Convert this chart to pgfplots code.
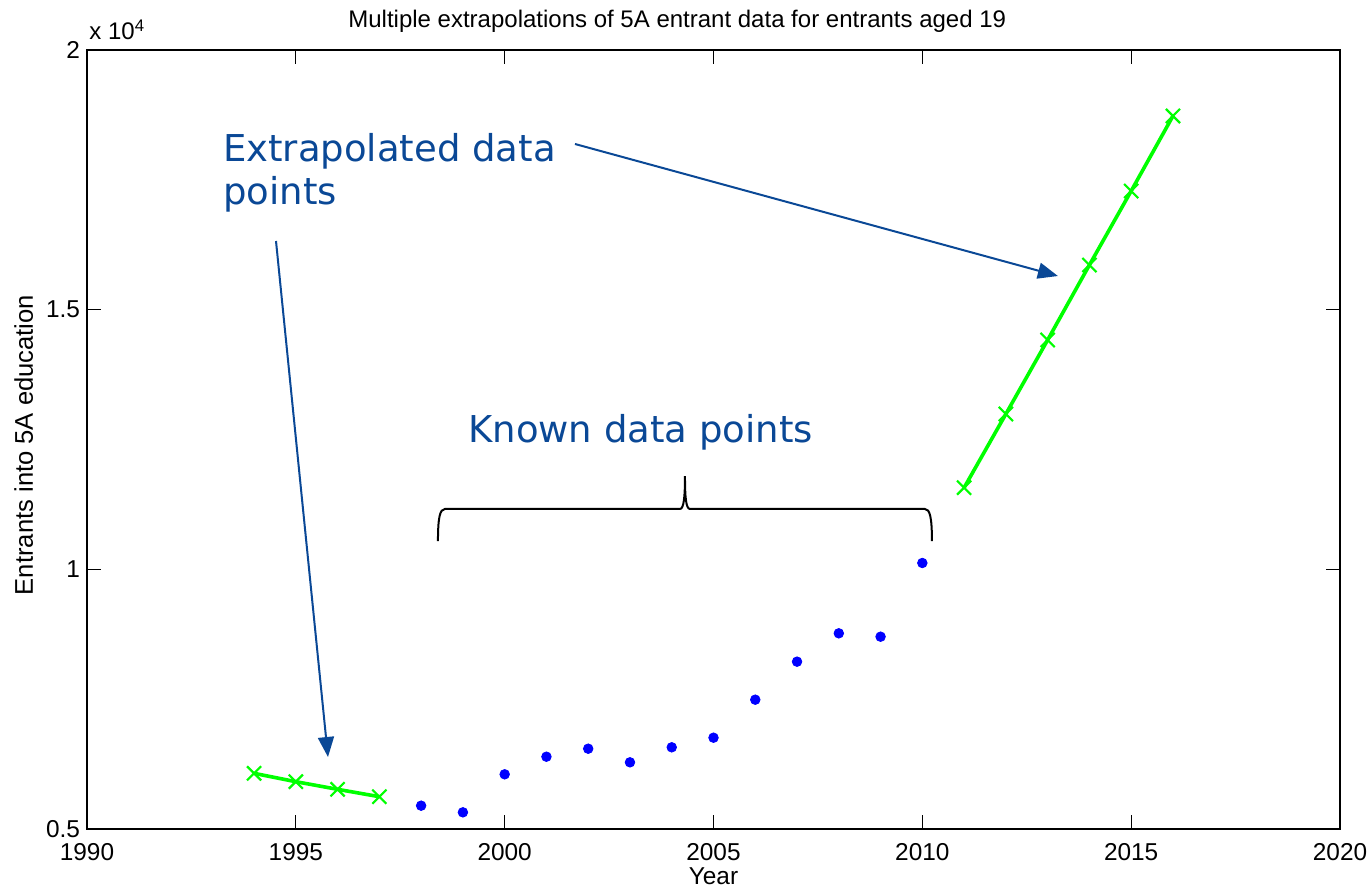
\documentclass[border=0pt]{standalone}
\usepackage{pgfplots}
\pgfplotsset{compat=1.18}
\usepackage{fontspec}
\setmainfont{Liberation Sans}
\newfontfamily\verd{DejaVu Sans}
\usetikzlibrary{arrows.meta}
\definecolor{annblue}{RGB}{10,72,150}
\definecolor{mgreen}{RGB}{0,255,0}
\definecolor{mblue}{RGB}{0,0,255}
\begin{document}
\begin{tikzpicture}
\begin{axis}[
 at={(0,0)}, anchor=south west,
 scale only axis, width=626.5bp, height=389.5bp,
 xmin=1990, xmax=2020, ymin=5000, ymax=20000,
 xtick={1990,1995,...,2020}, ytick={5000,10000,15000,20000}, yticklabels={0.5,1,1.5,2},
 scaled ticks=false,
 x tick label style={/pgf/number format/1000 sep={}},
 /pgf/number format/assume math mode=true,
 tick align=inside, major tick length=7bp,
 axis line style={line width=0.6bp},
 every tick/.style={black, line width=0.6bp},
 tick label style={font=\fontsize{12.2bp}{14bp}\selectfont},
 xticklabel style={yshift=-3.8bp},
 clip=false,
]
\addplot[mgreen, line width=1.8bp, mark=x, mark size=5bp, mark options={line width=1.1bp}] coordinates {
 (1994,6072) (1995,5911) (1996,5764) (1997,5622)};
\addplot[mblue, only marks, mark=*, mark size=2.4bp] coordinates {
 (1998,5449) (1999,5321) (2000,6053) (2001,6392) (2002,6546) (2003,6284)
 (2004,6573) (2005,6758) (2006,7490) (2007,8222) (2008,8768) (2009,8703) (2010,10122)};
\addplot[mgreen, line width=1.8bp, mark=x, mark size=5bp, mark options={line width=1.1bp}] coordinates {
 (2011,11572) (2012,12991) (2013,14416) (2014,15860) (2015,17285) (2016,18729)};

% annotations
\node[anchor=base west, inner sep=0pt, text=annblue, font=\verd\fontsize{18.5bp}{22bp}\selectfont]
  at (axis cs:1993.25,17850) {Extrapolated data};
\node[anchor=base west, inner sep=0pt, text=annblue, font=\verd\fontsize{18.5bp}{22bp}\selectfont]
  at (axis cs:1993.25,17016) {points};
\node[anchor=base west, inner sep=0pt, text=annblue, font=\verd\fontsize{18.5bp}{22bp}\selectfont]
  at (axis cs:1999.12,12433) {Known data points};
\draw[annblue, line width=1bp, -{Triangle[length=10bp,width=8bp]}]
  (axis cs:2001.683,18190) -- (axis cs:2013.246,15648);
\draw[annblue, line width=1bp, -{Triangle[length=10bp,width=8bp]}]
  (axis cs:1994.525,16322) -- (axis cs:1995.770,6386);
\draw[black, line width=1bp]
  (axis cs:1998.403,10545) .. controls (axis cs:1998.403,11000) and (axis cs:1998.45,11162) .. (axis cs:1998.571,11162)
  -- (axis cs:2004.197,11162) .. controls (axis cs:2004.29,11162) and (axis cs:2004.317,11400) .. (axis cs:2004.317,11797)
  .. controls (axis cs:2004.317,11400) and (axis cs:2004.34,11162) .. (axis cs:2004.436,11162)
  -- (axis cs:2010.062,11162) .. controls (axis cs:2010.18,11162) and (axis cs:2010.23,11000) .. (axis cs:2010.23,10545);

% title, labels, exponent
\node[anchor=base west, inner sep=0pt, font=\fontsize{12bp}{14bp}\selectfont]
  at (axis description cs:0.2083,1) [yshift=11bp] {Multiple extrapolations of 5A entrant data for entrants aged 19};
\node[anchor=base, inner sep=0pt, font=\fontsize{12.2bp}{14bp}\selectfont]
  at (axis description cs:0.5,0) [yshift=-27.5bp] {Year};
\node[anchor=base, inner sep=0pt, rotate=90, font=\fontsize{12.8bp}{14bp}\selectfont]
  at (axis description cs:-0.0431,0.493) {Entrants into 5A education};
\node[anchor=base west, inner sep=0pt, font=\fontsize{12bp}{14bp}\selectfont]
  at (axis description cs:0,1) [xshift=1bp, yshift=5bp] {x 10\textsuperscript{4}};
\end{axis}
\pgfresetboundingbox
\path (-43.5bp,-30.5bp) rectangle (640.5bp,414.5bp);
\end{tikzpicture}
\end{document}
